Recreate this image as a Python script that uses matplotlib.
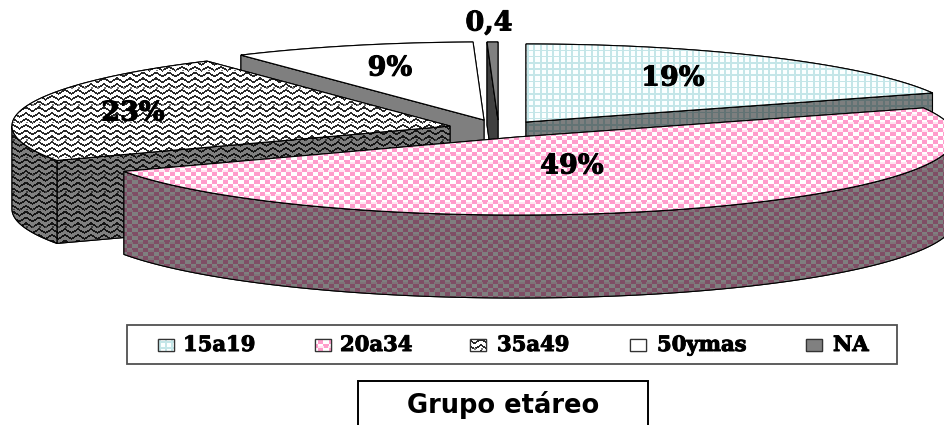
import numpy as np
import matplotlib
matplotlib.use("Agg")
import matplotlib.pyplot as plt
import matplotlib.patheffects as pe
from matplotlib.patches import Polygon, Rectangle

# Age-group shares, in drawing order around the pie (clockwise from 12 o'clock)
categories = ["15a19", "20a34", "35a49", "50ymas", "NA"]
values = [19, 49, 23, 9, 0.4]
value_labels = ["19%", "49%", "23%", "9%", "0,4"]
chart_title = "Grupo etáreo"

W, H = 944, 425
RX, RY, DEPTH = 438, 78, 83
# Apex of each exploded wedge on the canvas
apex_x = [526, 517, 450, 484, 498]
apex_y = [122, 137, 126, 120, 120]
label_x = [673, 572, 133, 390, 489]
label_y = [78, 166, 113, 68, 23]
legend_swatch_x = [158, 315, 470, 630, 806]
legend_text_x = [183, 340, 497, 657, 833]
draw_order = [4, 3, 0, 2, 1]

yy, xx = np.mgrid[0:H, 0:W] + 0.5


def rgb(hexstr):
    return np.array(matplotlib.colors.to_rgb(hexstr))


def fill(mask, fg, bg):
    img = np.ones((H, W, 3)) * rgb(bg)
    img[mask] = rgb(fg)
    return img


def grid_pattern():
    return fill(((xx % 6.35) < 2) | ((yy % 6.2) < 1.6), "#c4e6e8", "#fbffff")


def blob_pattern():
    img = fill(((xx % 10.6 < 5.3) ^ (yy % 8 < 4)), "#ff9ccb", "#ffffff")
    # Pale rings inside the pink checks
    ring = ((xx + 2.6) % 10.6 - 5.3) ** 2 / 9 + ((yy + 1) % 8 - 4) ** 2 / 2 < 1
    img[ring] = rgb("#ffe6f1")
    return img


def zigzag_pattern():
    tri = np.abs((xx % 13.0) - 6.5) * 0.62
    img = fill((yy + tri) % 5.8 < 2.1, "#2a2a2a", "#ffffff")
    # Rows of small specks between the chevrons
    specks = ((xx % 6.5) < 1.6) & ((yy % 17.4) < 1.6)
    img[specks] = rgb("#777777")
    return img


def solid_pattern(color):
    img = np.ones((H, W, 3)) * rgb(color)
    return img


patterns = [grid_pattern(), blob_pattern(), zigzag_pattern(),
            solid_pattern("#ffffff"), solid_pattern("#808080")]

fig = plt.figure(figsize=(W / 100, H / 100), dpi=100, facecolor="white")
ax = fig.add_axes([0, 0, 1, 1])


def paint(points, image, lw=0.8, edge="black", z=2):
    """Fill a closed outline with a canvas-sized texture and stroke its border."""
    poly = Polygon(points, closed=True, facecolor="none", edgecolor=edge,
                   linewidth=lw, zorder=z)
    ax.add_patch(poly)
    im = ax.imshow(image, extent=(0, W, H, 0), interpolation="bilinear", zorder=z)
    im.set_clip_path(poly)
    ax.add_patch(Polygon(points, closed=True, facecolor="none", edgecolor=edge,
                         linewidth=lw, zorder=z))


total = sum(values)
edges = np.concatenate([[0], np.cumsum(values)]) / total * 2 * np.pi

for i in draw_order:
    t0, t1 = edges[i], edges[i + 1]
    cx, cy = apex_x[i], apex_y[i]
    wall_img = patterns[i] * 0.5

    def rim(t):
        return cx + RX * np.sin(t), cy - RY * np.cos(t)

    ts = np.linspace(t0, t1, 160)
    rx, ry = rim(ts)

    # Cut faces: a face shows only when the wedge's top lies above its edge
    mid_x, mid_y = rim((t0 + t1) / 2)
    for t in (t0, t1):
        ex, ey = rim(t)
        side = (ex - cx) * (mid_y - cy) - (ey - cy) * (mid_x - cx)
        above = side * (ex - cx) < 0 if abs(ex - cx) > 1e-6 else False
        if above:
            paint([(cx, cy), (ex, ey), (ex, ey + DEPTH), (cx, cy + DEPTH)], wall_img)

    # Outer rim wall on the half facing the viewer
    front = (ts > np.pi / 2) & (ts < 3 * np.pi / 2)
    if front.any():
        fx, fy = rx[front], ry[front]
        outline = list(zip(fx, fy)) + list(zip(fx[::-1], fy[::-1] + DEPTH))
        paint(outline, wall_img)

    # Top surface
    paint([(cx, cy)] + list(zip(rx, ry)), patterns[i])

heavy = [pe.withStroke(linewidth=0.7, foreground="black")]

for x, y, s in zip(label_x, label_y, value_labels):
    ax.text(x, y, s, family="DejaVu Serif", weight="bold", fontsize=19.5,
            ha="center", va="center", color="black", zorder=5, path_effects=heavy)

# Legend strip
ax.add_patch(Rectangle((127, 325), 770, 39, facecolor="white", edgecolor="#505050",
                       linewidth=1.3, zorder=3))
for i, name in enumerate(categories):
    sx = legend_swatch_x[i]
    paint([(sx, 339), (sx + 16, 339), (sx + 16, 351), (sx, 351)], patterns[i], lw=0.9,
          edge="#333333", z=4)
    ax.text(legend_text_x[i], 345, name, family="DejaVu Serif", weight="bold",
            fontsize=15.2, ha="left", va="center", color="black", zorder=5,
            path_effects=heavy)

# Title box, running off the lower edge of the figure
ax.add_patch(Rectangle((358, 381), 290, 60, facecolor="white", edgecolor="black",
                       linewidth=1.4, zorder=3))
ax.text(503, 405, chart_title, family="DejaVu Sans", weight="bold", fontsize=18.5,
        ha="center", va="center", color="black", zorder=5)

ax.set_xlim(0, W)
ax.set_ylim(H, 0)
ax.axis("off")
fig.savefig("out.png", dpi=100, facecolor="white")
